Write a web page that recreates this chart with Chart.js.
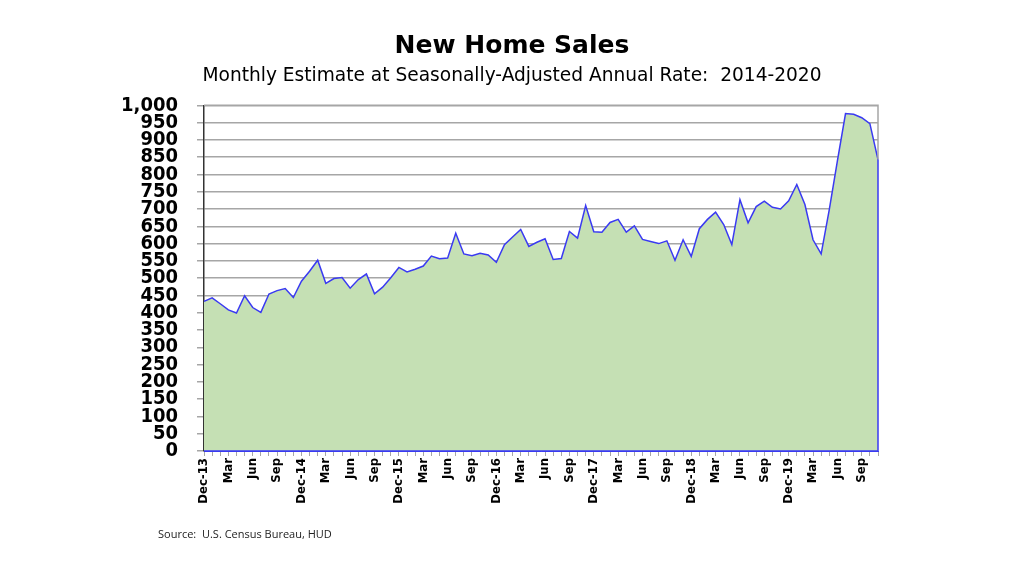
<!DOCTYPE html>
<html>
<head>
<meta charset="utf-8">
<script src="https://cdn.jsdelivr.net/npm/chart.js@4.4.0/dist/chart.umd.min.js"></script>
<style>
  html, body { margin: 0; padding: 0; background: #fff; }
  #wrap { width: 1024px; height: 576px; }
</style>
</head>
<body>
<div id="wrap"><canvas id="myChart" width="1024" height="576"></canvas></div>
<script>
// New home sales, thousands, SAAR (Dec-13 .. Nov-20)
const months = [
    'Dec-13', 'Jan-14', 'Feb-14', 'Mar-14', 'Apr-14', 'May-14', 'Jun-14', 'Jul-14', 'Aug-14', 'Sep-14', 'Oct-14', 'Nov-14',
    'Dec-14', 'Jan-15', 'Feb-15', 'Mar-15', 'Apr-15', 'May-15', 'Jun-15', 'Jul-15', 'Aug-15', 'Sep-15', 'Oct-15', 'Nov-15',
    'Dec-15', 'Jan-16', 'Feb-16', 'Mar-16', 'Apr-16', 'May-16', 'Jun-16', 'Jul-16', 'Aug-16', 'Sep-16', 'Oct-16', 'Nov-16',
    'Dec-16', 'Jan-17', 'Feb-17', 'Mar-17', 'Apr-17', 'May-17', 'Jun-17', 'Jul-17', 'Aug-17', 'Sep-17', 'Oct-17', 'Nov-17',
    'Dec-17', 'Jan-18', 'Feb-18', 'Mar-18', 'Apr-18', 'May-18', 'Jun-18', 'Jul-18', 'Aug-18', 'Sep-18', 'Oct-18', 'Nov-18',
    'Dec-18', 'Jan-19', 'Feb-19', 'Mar-19', 'Apr-19', 'May-19', 'Jun-19', 'Jul-19', 'Aug-19', 'Sep-19', 'Oct-19', 'Nov-19',
    'Dec-19', 'Jan-20', 'Feb-20', 'Mar-20', 'Apr-20', 'May-20', 'Jun-20', 'Jul-20', 'Aug-20', 'Sep-20', 'Oct-20', 'Nov-20'
];

const sales = [
    433, 443, 426, 408, 399, 449, 415, 401, 454, 464, 470, 444,
    491, 520, 552, 485, 499, 502, 471, 496, 512, 455, 474, 501,
    531, 518, 526, 535, 564, 556, 558, 630, 570, 565, 572, 567,
    546, 597, 619, 641, 592, 604, 614, 554, 557, 635, 616, 710,
    634, 633, 661, 670, 633, 651, 612, 606, 600, 608, 552, 611,
    563, 643, 670, 691, 655, 597, 727, 660, 707, 723, 705, 700,
    724, 771, 713, 611, 570, 698, 839, 976, 974, 964, 947, 843
];

const yTicks = { min: 0, max: 1000, step: 50 };

const titleText = 'New Home Sales';
const subtitleText = 'Monthly Estimate at Seasonally-Adjusted Annual Rate:  2014-2020';
const sourceText = 'Source:  U.S. Census Bureau, HUD';

const gridGray = '#a6a6a6';
const lineBlue = '#3a3af2';

// frame on top/right of the plot + source note
const framePlugin = {
    id: 'frame',
    afterDatasetsDraw(chart) {
        const { ctx, chartArea } = chart;
        const yLast = chart.scales.y.getPixelForValue(sales[sales.length - 1]);
        ctx.save();
        ctx.lineWidth = 1.5;
        ctx.strokeStyle = gridGray;
        ctx.beginPath();
        ctx.moveTo(chartArea.left, chartArea.top);
        ctx.lineTo(chartArea.right, chartArea.top);
        ctx.lineTo(chartArea.right, yLast);
        ctx.stroke();
        ctx.strokeStyle = lineBlue;
        ctx.beginPath();
        ctx.moveTo(chartArea.right, yLast);
        ctx.lineTo(chartArea.right, chartArea.bottom);
        ctx.lineTo(chartArea.left, chartArea.bottom);
        ctx.stroke();
        ctx.restore();
    },
    afterDraw(chart) {
        const ctx = chart.ctx;
        ctx.save();
        ctx.font = '11px "Open Sans"';
        ctx.fillStyle = '#222';
        ctx.textBaseline = 'middle';
        ctx.fillText(sourceText, 158, 535);
        ctx.restore();
    }
};

const ctx = document.getElementById('myChart').getContext('2d');
new Chart(ctx, {
    type: 'line',
    data: {
        labels: months,
        datasets: [{
            label: 'New Home Sales',
            data: sales,
            borderColor: lineBlue,
            borderWidth: 1.5,
            backgroundColor: '#c5e0b4',
            fill: 'origin',
            pointRadius: 0,
            tension: 0
        }]
    },
    options: {
        responsive: false,
        animation: false,
        // symmetric side padding so the titles centre on the page
        layout: { padding: { left: 110, right: 110, top: 0, bottom: 45 } },
        plugins: {
            legend: { display: false },
            tooltip: { enabled: false },
            title: {
                display: true,
                text: titleText,
                color: '#000',
                font: { family: 'DejaVu Sans', size: 25, weight: 'bold' },
                padding: { top: 31, bottom: 1 }
            },
            subtitle: {
                display: true,
                text: subtitleText,
                color: '#000',
                font: { family: 'DejaVu Sans', size: 18.6 },
                padding: { top: 3, bottom: 18 }
            }
        },
        scales: {
            x: {
                offset: false,
                afterFit(scale) { scale.height = 80; },
                grid: { drawOnChartArea: false, color: gridGray, tickLength: 5 },
                border: { color: lineBlue },
                ticks: {
                    autoSkip: false,
                    maxRotation: 90,
                    minRotation: 90,
                    padding: 2,
                    color: '#000',
                    font: { family: 'DejaVu Sans Condensed', size: 13, weight: 'bold' },
                    callback(value, index) {
                        if (index % 3 !== 0) return '';
                        const lab = months[index];
                        return lab.startsWith('Dec') ? lab : lab.slice(0, 3);
                    }
                }
            },
            y: {
                min: yTicks.min,
                max: yTicks.max,
                afterFit(scale) { scale.width = 94; },
                grid: { color: gridGray, lineWidth: 1.5, tickLength: 7 },
                border: { color: '#333', width: 1.5 },
                ticks: {
                    stepSize: yTicks.step,
                    autoSkip: false,
                    padding: 19,
                    color: '#000',
                    font: { family: 'DejaVu Sans Condensed', size: 20, weight: 'bold', lineHeight: 1 },
                    callback: v => v.toLocaleString('en-US')
                }
            },
            // empty spacer on the right, balances the left axis
            spacer: {
                position: 'right',
                afterFit(scale) { scale.width = 36; },
                grid: { display: false },
                border: { display: false },
                ticks: { display: false }
            }
        }
    },
    plugins: [framePlugin]
});
</script>
</body>
</html>
